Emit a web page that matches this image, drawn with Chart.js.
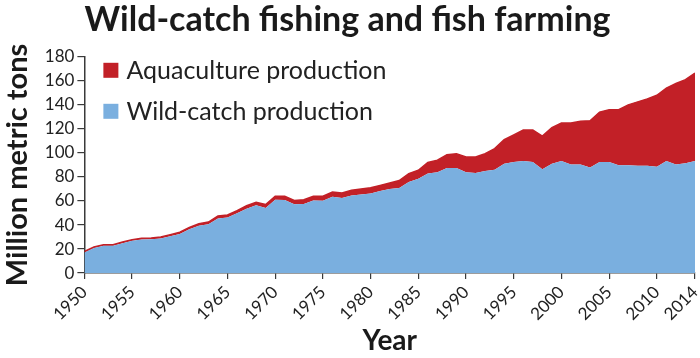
<!DOCTYPE html>
<html lang="en">
<head>
  <meta charset="UTF-8" />
  <title>Wild-catch fishing and fish farming</title>
  <script src="https://cdn.jsdelivr.net/npm/chart.js"></script>
  <style>
    html, body { margin: 0; padding: 0; background: #fff; }
    #wrap { width: 700px; height: 358px; }
  </style>
</head>
<body>
  <div id="wrap"><canvas id="fishChart" width="700" height="358"></canvas></div>

  <script>
    const years = [
      1950, 1951, 1952, 1953, 1954, 1955, 1956, 1957, 1958, 1959,
      1960, 1961, 1962, 1963, 1964, 1965, 1966, 1967, 1968, 1969,
      1970, 1971, 1972, 1973, 1974, 1975, 1976, 1977, 1978, 1979,
      1980, 1981, 1982, 1983, 1984, 1985, 1986, 1987, 1988, 1989,
      1990, 1991, 1992, 1993, 1994, 1995, 1996, 1997, 1998, 1999,
      2000, 2001, 2002, 2003, 2004, 2005, 2006, 2007, 2008, 2009,
      2010, 2011, 2012, 2013, 2014
    ];

    // million metric tons
    const wildCatch = [
      17.2, 20.9, 22.8, 22.8, 24.9, 26.9, 27.9, 28.2, 28.8, 30.7,
      32.6, 36.4, 39.3, 40.7, 45.5, 46.2, 49.7, 53.5, 56.4, 54.2,
      61.0, 60.8, 57.2, 57.5, 60.4, 60.3, 63.5, 62.4, 64.6, 65.4,
      66.2, 68.3, 70.0, 70.8, 75.8, 78.6, 82.8, 84.0, 87.5, 87.5,
      84.0, 83.3, 85.0, 86.0, 91.0, 92.5, 93.3, 92.5, 86.4, 91.0,
      93.3, 90.3, 90.3, 87.8, 92.5, 92.5, 89.7, 89.7, 89.4, 89.4,
      88.6, 93.3, 90.3, 91.5, 93.3
    ];
    const aquaculture = [
      0.8, 0.8, 0.8, 0.8, 0.9, 0.9, 1.1, 1.1, 1.2, 1.3,
      1.4, 1.6, 1.7, 1.8, 2.0, 2.1, 2.3, 2.5, 2.6, 2.8,
      3.0, 3.2, 3.3, 3.5, 3.6, 3.7, 4.0, 4.3, 4.4, 4.6,
      4.8, 4.7, 5.0, 6.2, 7.0, 7.0, 9.2, 10.0, 11.1, 11.9,
      12.7, 13.4, 14.4, 17.6, 20.0, 22.5, 25.7, 26.5, 27.6, 30.0,
      31.7, 34.7, 36.1, 38.9, 41.5, 43.5, 46.3, 50.3, 53.1, 55.6,
      59.4, 60.7, 67.5, 69.5, 73.2
    ];

    const xTickLabels = [1950, 1955, 1960, 1965, 1970, 1975, 1980, 1985, 1990, 1995, 2000, 2005, 2010, 2014];
    const yTickLabels = [0, 20, 40, 60, 80, 100, 120, 140, 160, 180];

    const BLUE = '#7aafdf';
    const RED = '#c22027';
    const INK = '#222222';
    const AXIS = '#3a3a3a';

    // legend drawn inside the plot, top-left, aquaculture first
    const innerLegend = {
      id: 'innerLegend',
      afterDraw(chart) {
        const ctx = chart.ctx;
        const area = chart.chartArea;
        const items = chart.data.datasets.slice().reverse();
        ctx.save();
        ctx.font = '25px Lato';
        ctx.textBaseline = 'alphabetic';
        items.forEach((ds, i) => {
          const y = area.top + 6 + i * 41;
          ctx.fillStyle = ds.backgroundColor;
          ctx.fillRect(area.left + 19, y, 15, 15);
          ctx.fillStyle = INK;
          ctx.fillText(ds.label, area.left + 42, y + 16);
        });
        ctx.restore();
      }
    };

    new Chart(document.getElementById('fishChart'), {
      type: 'line',
      data: {
        labels: years,
        datasets: [
          {
            label: 'Wild-catch production',
            data: wildCatch,
            backgroundColor: BLUE,
            borderColor: BLUE,
            borderWidth: 0,
            fill: 'origin',
            pointRadius: 0,
            tension: 0
          },
          {
            label: 'Aquaculture production',
            data: aquaculture,
            backgroundColor: RED,
            borderColor: RED,
            borderWidth: 1.5,
            fill: '-1',
            pointRadius: 0,
            tension: 0
          }
        ]
      },
      options: {
        responsive: false,
        animation: false,
        layout: { padding: { left: 0, right: 5, top: 0, bottom: 0 } },
        plugins: {
          legend: { display: false },
          tooltip: { enabled: false },
          title: {
            display: true,
            text: 'Wild-catch fishing and fish farming',
            color: '#1a1a1a',
            font: { family: 'Lato', size: 34, weight: 'bold' },
            padding: { top: 0, bottom: 16 }
          }
        },
        scales: {
          x: {
            type: 'linear',
            min: 1950,
            max: 2014,
            afterBuildTicks(scale) {
              scale.ticks = xTickLabels.map(v => ({ value: v }));
            },
            afterFit(scale) {
              scale.paddingRight = 3;
            },
            grid: { display: true, drawOnChartArea: false, drawTicks: true, tickLength: 6, color: AXIS, lineWidth: 1.2 },
            border: { display: true, color: AXIS, width: 1.5 },
            ticks: {
              color: INK,
              font: { family: 'Lato', size: 17 },
              minRotation: 45,
              maxRotation: 45,
              autoSkip: false,
              padding: 3,
              callback: v => String(v)
            },
            title: {
              display: true,
              text: 'Year',
              color: '#1a1a1a',
              font: { family: 'Lato', size: 28, weight: 'bold' },
              padding: { top: -3, bottom: 0 }
            }
          },
          y: {
            stacked: true,
            min: 0,
            max: 180,
            afterBuildTicks(scale) {
              scale.ticks = yTickLabels.map(v => ({ value: v }));
            },
            grid: { display: true, drawOnChartArea: false, drawTicks: true, tickLength: 7, color: AXIS, lineWidth: 1.2 },
            border: { display: true, color: AXIS, width: 1.5 },
            ticks: {
              color: INK,
              font: { family: 'Lato', size: 17 },
              padding: 3
            },
            title: {
              display: true,
              text: 'Million metric tons',
              color: '#1a1a1a',
              font: { family: 'Lato', size: 29, weight: 'bold' },
              padding: { top: 0, bottom: 7 }
            }
          }
        }
      },
      plugins: [innerLegend]
    });
  </script>
</body>
</html>
